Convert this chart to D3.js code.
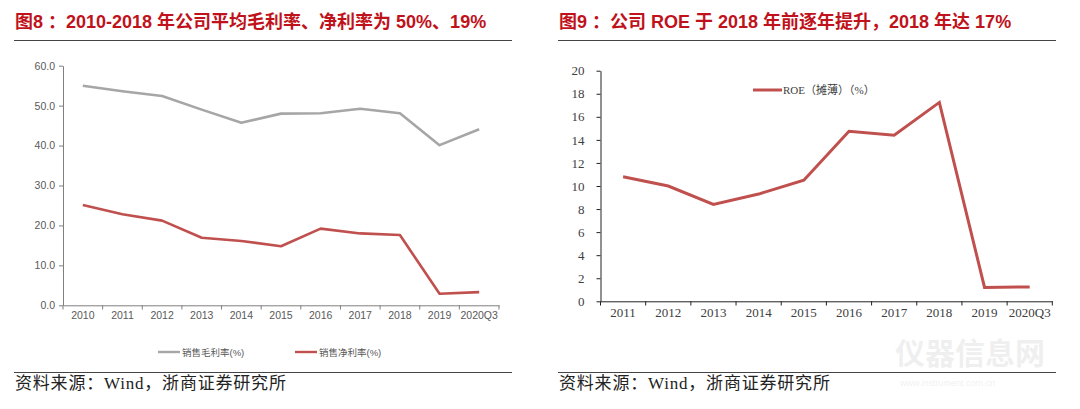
<!DOCTYPE html>
<html><head><meta charset="utf-8">
<script src="https://cdn.jsdelivr.net/npm/d3@7/dist/d3.min.js"></script>
<style>
body{margin:0;background:#fff;}
svg{display:block;}
</style></head>
<body>
<svg id="c" width="1080" height="409"></svg>
<script>
// ---- data ----
const leftCategories = ["2010","2011","2012","2013","2014","2015","2016","2017","2018","2019","2020Q3"];
const grossMargin = [55.0, 53.6, 52.4, 49.0, 45.7, 48.0, 48.1, 49.2, 48.1, 40.1, 44.1];
const netMargin   = [25.1, 22.8, 21.2, 16.9, 16.1, 14.8, 19.2, 18.0, 17.6, 2.9, 3.3];
const leftYTicks  = [0,10,20,30,40,50,60];
const leftSeriesNames = ["销售毛利率(%)","销售净利率(%)"];

const rightCategories = ["2011","2012","2013","2014","2015","2016","2017","2018","2019","2020Q3"];
const roe = [10.8, 10.0, 8.4, 9.3, 10.5, 14.75, 14.4, 17.25, 1.2, 1.25];
const rightYTicks = [0,2,4,6,8,10,12,14,16,18,20];
const rightSeriesName = "ROE（摊薄）（%）";

const titleLeft = "图8 ：2010-2018 年公司平均毛利率、净利率为 50%、19%";
const titleRight = "图9 ：公司 ROE 于 2018 年前逐年提升，2018 年达 17%";
const sourceText = "资料来源：Wind，浙商证券研究所";

// ---- drawing ----
const svg = d3.select("#c");
const red = "#c0504d", gray = "#a6a6a6", titleRed = "#c0121b";
const sansCJK = "'Liberation Sans', Arial, 'Noto Sans CJK SC', sans-serif";
const serif = "'Liberation Serif', 'Times New Roman', 'Noto Sans CJK SC', serif";

function header(x0, x1, title){
  svg.append("text").attr("x", x0+1).attr("y", 28)
    .attr("font-family", sansCJK).attr("font-weight","bold").attr("font-size", 18)
    .attr("fill", titleRed).text(title);
  svg.append("line").attr("x1", x0).attr("x2", x1).attr("y1", 40.5).attr("y2", 40.5)
    .attr("stroke", "#444").attr("stroke-width", 1.2);
  svg.append("line").attr("x1", x0).attr("x2", x1).attr("y1", 372.5).attr("y2", 372.5)
    .attr("stroke", "#444").attr("stroke-width", 1.2);
  svg.append("text").attr("x", x0+1).attr("y", 389)
    .attr("font-family", serif).attr("font-size", 17).attr("letter-spacing", 0.8)
    .attr("fill", "#222").text(sourceText);
}
header(14, 512, titleLeft);
header(558, 1056, titleRight);

// Left chart
{
  const x = d3.scaleBand().domain(leftCategories).range([63, 499]);
  const y = d3.scaleLinear().domain([0, 60]).range([305.3, 65.7]);
  const g = svg.append("g");
  const axisColor = "#7f7f7f";
  const ya = g.append("g").attr("transform", "translate(63,0)")
    .call(d3.axisLeft(y).tickValues(leftYTicks).tickFormat(d3.format(".1f")).tickSize(4).tickSizeOuter(0));
  ya.select(".domain").attr("stroke", axisColor);
  ya.selectAll(".tick line").attr("stroke", axisColor);
  ya.selectAll("text").attr("font-family", "'Liberation Sans', Arial, sans-serif")
    .attr("font-size", 10.5).attr("fill", "#595959").attr("x", -8);
  const xa = g.append("g").attr("transform", "translate(0,305.3)")
    .call(d3.axisBottom(x).tickSize(0).tickSizeOuter(0));
  xa.select(".domain").attr("stroke", axisColor);
  xa.selectAll("text").attr("font-family", "'Liberation Sans', Arial, sans-serif")
    .attr("font-size", 10.5).attr("fill", "#595959").attr("dy", "1.05em");
  const bounds = leftCategories.map(c => x(c)).concat([x.range()[1]]);
  g.selectAll(".xt").data(bounds).join("line")
    .attr("x1", d => d).attr("x2", d => d).attr("y1", 305.3).attr("y2", 309.5)
    .attr("stroke", axisColor);
  const line = d3.line().x((d,i) => x(leftCategories[i]) + x.bandwidth()/2).y(d => y(d));
  g.append("path").datum(grossMargin).attr("d", line).attr("fill","none")
    .attr("stroke", gray).attr("stroke-width", 2.6).attr("stroke-linejoin","round");
  g.append("path").datum(netMargin).attr("d", line).attr("fill","none")
    .attr("stroke", red).attr("stroke-width", 2.6).attr("stroke-linejoin","round");
  const leg = [{x:158, c:gray, t:leftSeriesNames[0]}, {x:295, c:red, t:leftSeriesNames[1]}];
  leg.forEach(l => {
    g.append("line").attr("x1", l.x).attr("x2", l.x+22).attr("y1", 352).attr("y2", 352)
      .attr("stroke", l.c).attr("stroke-width", 2.4);
    g.append("text").attr("x", l.x+24).attr("y", 355.5)
      .attr("font-family", sansCJK).attr("font-size", 9.5).attr("fill", "#595959").text(l.t);
  });
}

// Right chart
{
  const x = d3.scaleBand().domain(rightCategories).range([600.5, 1052.3]);
  const y = d3.scaleLinear().domain([0, 20]).range([301.3, 70.7]);
  const g = svg.append("g");
  const axisColor = "#222";
  const ya = g.append("g").attr("transform", "translate(600.5,0)")
    .call(d3.axisLeft(y).tickValues(rightYTicks).tickSize(4).tickSizeOuter(0));
  ya.select(".domain").attr("stroke", axisColor);
  ya.selectAll(".tick line").attr("stroke", axisColor);
  ya.selectAll("text").attr("font-family", serif)
    .attr("font-size", 13).attr("fill", "#404040").attr("x", -16);
  const xa = g.append("g").attr("transform", "translate(0,301.3)")
    .call(d3.axisBottom(x).tickSize(0).tickSizeOuter(0));
  xa.select(".domain").attr("stroke", axisColor);
  xa.selectAll("text").attr("font-family", serif)
    .attr("font-size", 13).attr("fill", "#404040").attr("dy", "1.0em");
  const bounds = rightCategories.map(c => x(c)).concat([x.range()[1]]);
  g.selectAll(".xt").data(bounds).join("line")
    .attr("x1", d => d).attr("x2", d => d).attr("y1", 301.3).attr("y2", 305.5)
    .attr("stroke", axisColor);
  const line = d3.line().x((d,i) => x(rightCategories[i]) + x.bandwidth()/2).y(d => y(d));
  g.append("path").datum(roe).attr("d", line).attr("fill","none")
    .attr("stroke", red).attr("stroke-width", 3).attr("stroke-linejoin","miter");
  g.append("line").attr("x1", 753).attr("x2", 782).attr("y1", 90).attr("y2", 90)
    .attr("stroke", red).attr("stroke-width", 3);
  g.append("text").attr("x", 783).attr("y", 94)
    .attr("font-family", serif).attr("font-size", 11).attr("fill", "#404040").text(rightSeriesName);
}

// watermark
svg.append("text").attr("x", 895).attr("y", 364).attr("font-family", sansCJK)
  .attr("font-weight","bold").attr("font-size", 30).attr("fill", "#000").attr("opacity", 0.06)
  .text("仪器信息网");
svg.append("text").attr("x", 900).attr("y", 386).attr("font-family", sansCJK)
  .attr("font-size", 9).attr("fill", "#000").attr("opacity", 0.06)
  .text("www.instrument.com.cn");
</script>
</body></html>
